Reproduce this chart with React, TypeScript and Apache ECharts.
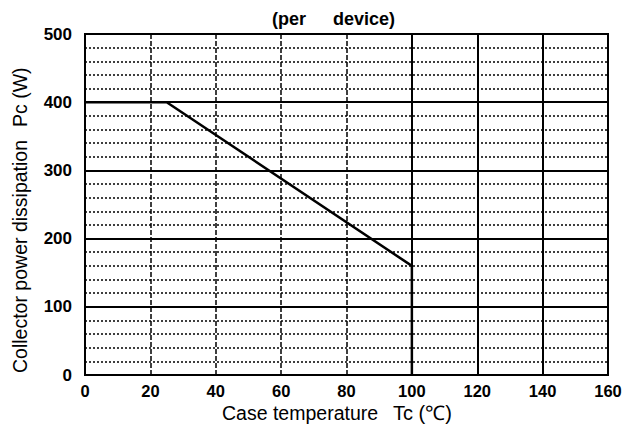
import React, { useEffect, useRef } from "react";
import * as echarts from "echarts";

const curveTemp = [0, 25, 100, 100];
const curvePower = [400, 400, 160, 0];
const xTicks = [0, 20, 40, 60, 80, 100, 120, 140, 160];
const yTicks = [0, 100, 200, 300, 400, 500];
const dashedVerticals = [20, 40, 60, 80];
const solidVerticals = [100, 120, 140];

export default function App() {
  const ref = useRef<HTMLDivElement>(null);
  useEffect(() => {
    if (!ref.current) return;
    const chart = echarts.init(ref.current, null, { renderer: "svg" });
    const labelFont = { fontFamily: "Liberation Sans, Arial, sans-serif", fontWeight: "bold", fontSize: 17, color: "#000" };
    const nameFont = "19.5px 'Liberation Sans', Arial, sans-serif";
    chart.setOption({
      animation: false,
      backgroundColor: "#fff",
      grid: { left: 85, right: 17, top: 34, bottom: 55, show: true, borderColor: "#000", borderWidth: 2, backgroundColor: "transparent" },
      xAxis: {
        type: "value",
        min: xTicks[0],
        max: xTicks[xTicks.length - 1],
        interval: 20,
        axisLine: { show: true, lineStyle: { color: "#000", width: 2 } },
        axisTick: { show: false },
        splitLine: { show: false },
        axisLabel: { ...labelFont, fontSize: 16.5, margin: 7, lineHeight: 17 },
      },
      yAxis: {
        type: "value",
        min: yTicks[0],
        max: yTicks[yTicks.length - 1],
        interval: 100,
        axisLine: { show: true, lineStyle: { color: "#000", width: 2 } },
        axisTick: { show: false },
        splitLine: { show: true, lineStyle: { color: "#000", width: 2 } },
        minorTick: { show: false, splitNumber: 5 },
        minorSplitLine: { show: true, lineStyle: { color: "#000", width: 1.5, type: [2, 2] } },
        axisLabel: { ...labelFont, margin: 13 },
      },
      graphic: [
        {
          type: "text",
          x: 272,
          y: 19,
          style: { text: "(per", font: "bold 18px 'Liberation Sans', Arial, sans-serif", fill: "#000", textAlign: "left", textVerticalAlign: "middle" },
        },
        {
          type: "text",
          x: 333,
          y: 19,
          style: { text: "device)", font: "bold 18px 'Liberation Sans', Arial, sans-serif", fill: "#000", textAlign: "left", textVerticalAlign: "middle" },
        },
        {
          type: "text",
          x: 20,
          y: 373,
          rotation: Math.PI / 2,
          style: { text: "Collector power dissipation", font: nameFont, fill: "#000", textAlign: "left", textVerticalAlign: "middle" },
        },
        {
          type: "text",
          x: 20,
          y: 127,
          rotation: Math.PI / 2,
          style: { text: "Pc (W)", font: nameFont, fill: "#000", textAlign: "left", textVerticalAlign: "middle" },
        },
        {
          type: "text",
          x: 222,
          y: 413,
          style: { text: "Case temperature", font: nameFont, fill: "#000", textAlign: "left", textVerticalAlign: "middle" },
        },
        {
          type: "text",
          x: 393,
          y: 413,
          style: { text: "Tc (℃)", font: "20px 'Liberation Sans', Arial, sans-serif", fill: "#000", textAlign: "left", textVerticalAlign: "middle" },
        },
      ],
      series: [
        {
          type: "line",
          data: curveTemp.map((t, i) => [t, curvePower[i]]),
          symbol: "none",
          lineStyle: { color: "#000", width: 2.5 },
          markLine: {
            silent: true,
            symbol: "none",
            label: { show: false },
            data: [
              ...dashedVerticals.map((x) => ({ xAxis: x, lineStyle: { color: "#000", width: 1.5, type: [5, 2] } })),
              ...solidVerticals.map((x) => ({ xAxis: x, lineStyle: { color: "#000", width: 2, type: "solid" } })),
            ],
          },
          z: 5,
        },
      ],
    });
    return () => chart.dispose();
  }, []);
  return <div ref={ref} style={{ width: 625, height: 430, position: "absolute", left: 0, top: 0 }} />;
}
